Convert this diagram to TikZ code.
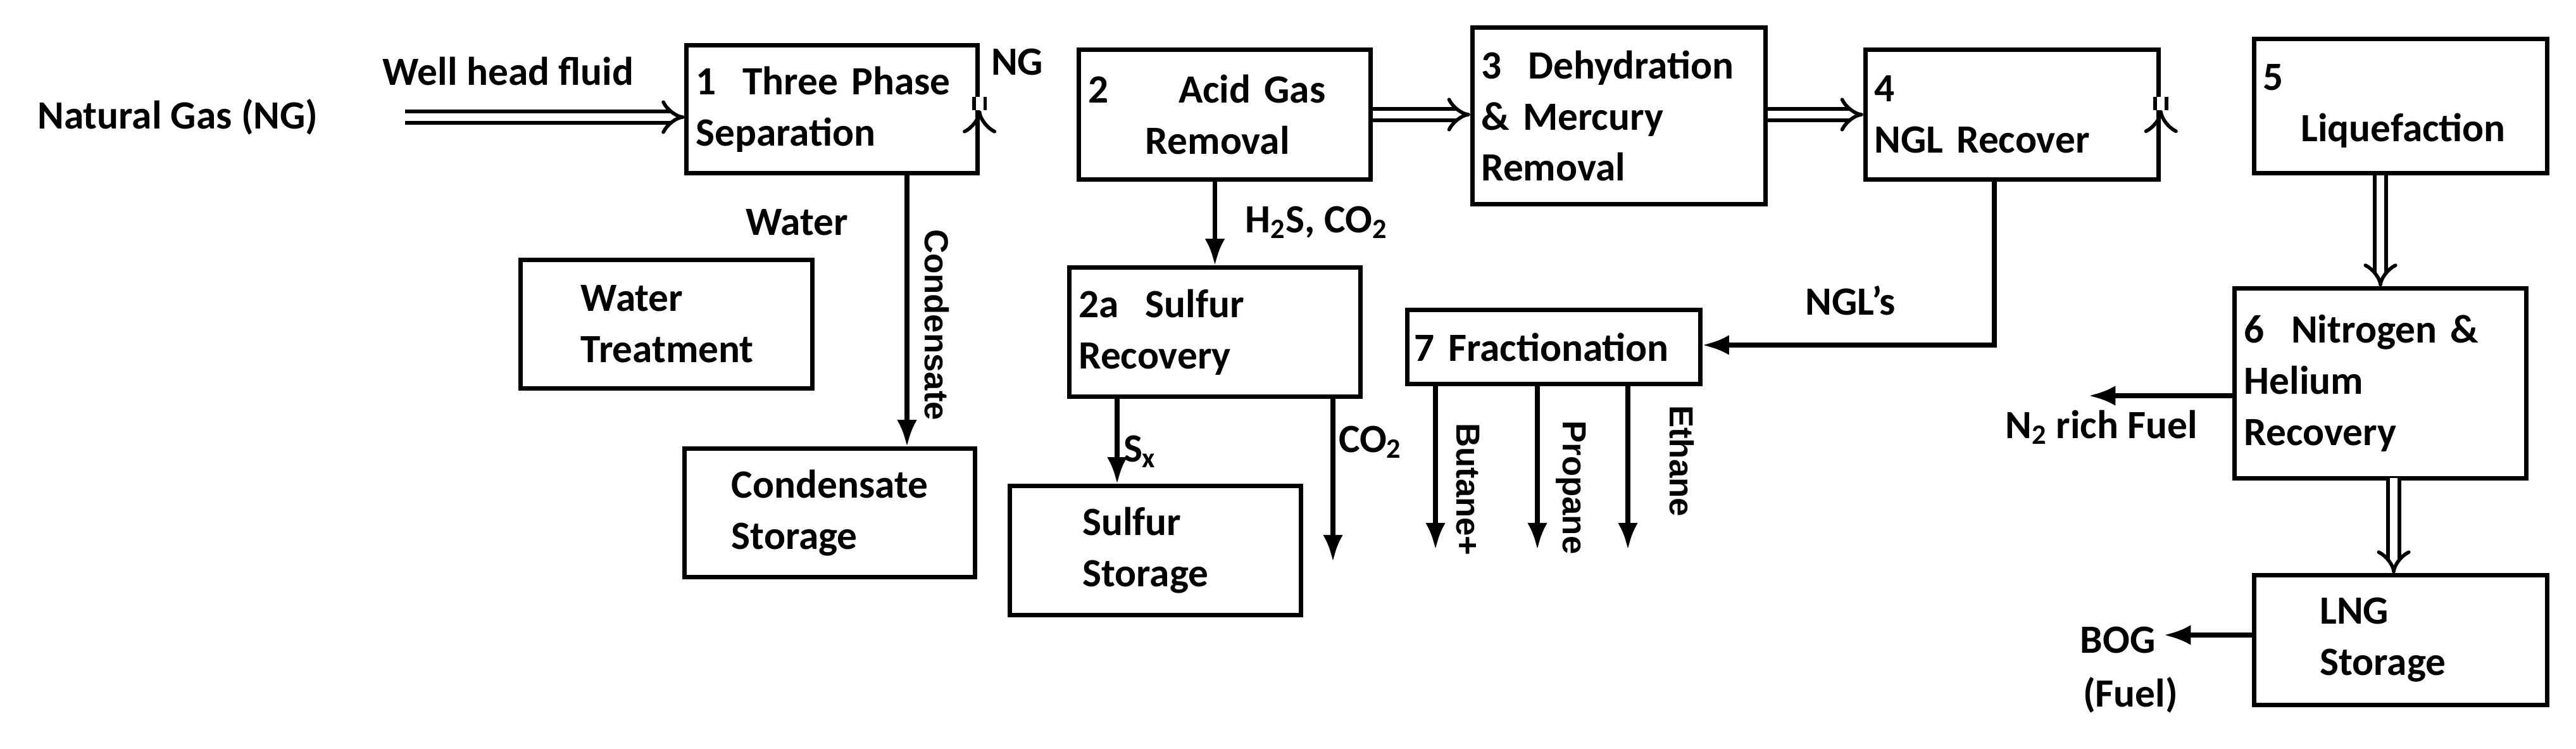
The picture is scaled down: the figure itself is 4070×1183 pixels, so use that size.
\documentclass[tikz,border=0pt]{standalone}
\usepackage{fontspec}
\setmainfont{Carlito}
\newfontfamily\arl{Liberation Sans}
\usetikzlibrary{arrows.meta,calc}
\begin{document}
\begin{tikzpicture}[x=0.01cm,y=-0.01cm,
  box/.style={draw,line width=2pt,inner xsep=4pt,align=left,font=\fontsize{18}{23}\selectfont\bfseries},
  lbl/.style={font=\fontsize{18}{23}\selectfont\bfseries,align=left},
  rl/.style={font=\arl\fontsize{15}{18}\selectfont\bfseries,rotate=-90},
  arr/.style={line width=2.2pt,-{Latex[length=12pt,width=9pt]}},
  dbl/.style={double,line width=1.6pt,double distance=3.5pt,-{Implies[length=10pt,width=14pt]}}]
\useasboundingbox (0,0) rectangle (4070,1183);
% boxes
\node[box,minimum width=4.59cm,minimum height=2.01cm,text width=4.3cm] (b1) at (1314.5,172.5) {1~~Three Phase\\Separation};
\node[box,minimum width=4.60cm,minimum height=2.04cm,text width=4.3cm] (b2) at (1935,181) {2\hspace{1.1cm}Acid Gas\\\hspace{0.9cm}Removal};
\node[box,minimum width=4.62cm,minimum height=2.78cm,text width=4.35cm] (b3) at (2558,183) {3~~Dehydration\\\&~Mercury\\Removal};
\node[box,minimum width=4.62cm,minimum height=2.04cm,text width=4.35cm] (b4) at (3179,181) {4\\NGL Recover};
\node[box,minimum width=4.62cm,minimum height=2.11cm,text width=4.35cm] (b5) at (3793,167.5) {5\\\hspace{0.6cm}Liquefaction};
\node[box,minimum width=4.60cm,minimum height=2.02cm,text width=4.3cm] (wt) at (1053,512) {\hspace{0.8cm}Water\\\hspace{0.8cm}Treatment};
\node[box,minimum width=4.58cm,minimum height=2.02cm,text width=4.3cm] (cs) at (1311,810) {\hspace{0.6cm}Condensate\\\hspace{0.6cm}Storage};
\node[box,minimum width=4.59cm,minimum height=2.03cm,text width=4.3cm] (b2a) at (1919.5,524.5) {2a~~Sulfur\\Recovery};
\node[box,minimum width=4.59cm,minimum height=2.03cm,text width=4.3cm] (ss) at (1825.5,869.5) {\hspace{1.0cm}Sulfur\\\hspace{1.0cm}Storage};
\node[box,minimum width=4.62cm,minimum height=1.16cm,text width=4.4cm,inner xsep=2pt] (b7) at (2455,548) {7 Fractionation};
\node[box,minimum width=4.60cm,minimum height=2.99cm,text width=4.3cm] (b6) at (3761,605.5) {6~~Nitrogen \&\\Helium\\Recovery};
\node[box,minimum width=4.62cm,minimum height=2.04cm,text width=4.35cm] (lng) at (3793,1011) {\hspace{0.9cm}LNG\\\hspace{0.9cm}Storage};
% labels
\node[lbl] (tng) at (281,185) {Natural Gas (NG)};
\node[lbl] (twh) at (803,113) {Well head fluid};
\node[lbl] (tng2) at (1607,98) {NG};
\node[lbl] (tw) at (1259,351) {Water};
\node[rl] (tcond) at (1480,513) {Condensate};
\node[lbl,anchor=west] (th2s) at (1955,351) {H$_\mathbf{2}$S, CO$_\mathbf{2}$};
\node[lbl] (tsx) at (1801,713) {S$_\mathbf{x}$};
\node[lbl] (tco2) at (2165,698) {CO$_\mathbf{2}$};
\node[lbl] (tngl) at (2924,475) {NGL’s};
\node[rl] (tbut) at (2319,773) {Butane+};
\node[rl] (tpro) at (2482,770) {Propane};
\node[rl] (teth) at (2657,728) {Ethane};
\node[lbl] (tn2) at (3320,675) {N$_\mathbf{2}$ rich Fuel};
\node[lbl] (tbog) at (3346,1011) {BOG};
\node[lbl] (tfuel) at (3366,1098) {(Fuel)};
% coordinates
\coordinate (ngin) at (640,185);
\coordinate (cond) at (1433,273);
\coordinate (sx) at (1765,626);
\coordinate (co2e) at (2106,887);
\coordinate (ngl) at (3151,545);
\coordinate (bu) at (2268,868);
\coordinate (pr) at (2429,868);
\coordinate (et) at (2572,868);
\coordinate (n2) at (3300,625);
\coordinate (bog) at (3419,1003);
\coordinate (d6) at (3782,755);
% double arrows
\draw[dbl] (ngin) -- (ngin -| b1.west);
\draw[dbl] ($(b1.east)+(0,2)$) -- ($(b1.east)+(0,2)$ -| b2.west);
\draw[dbl] (b2.east) -- (b2.east -| b3.west);
\draw[dbl] (b3.east |- b4.east) -- (b4.west);
\draw[dbl] ($(b4.east)+(0,-7)$) -- ($(b4.east)+(0,-7)$ -| b5.west);
\draw[dbl] (b6.north |- b5.south) -- (b6.north);
\draw[dbl] (d6) -- (d6 |- lng.north);
% single arrows
\draw[arr] (cond) -- (cond |- cs.north);
\draw[arr] (b2a.north |- b2.south) -- (b2a.north);
\draw[arr] (sx) -- (sx |- ss.north);
\draw[arr] (co2e |- b2a.south) -- (co2e);
\draw[arr] (ngl |- b4.south) -- (ngl) -- (b7.east |- ngl);
\draw[arr] (bu |- b7.south) -- (bu);
\draw[arr] (pr |- b7.south) -- (pr);
\draw[arr] (et |- b7.south) -- (et);
\draw[arr] (n2 -| b6.west) -- (n2);
\draw[arr] (bog -| lng.west) -- (bog);
\end{tikzpicture}
\end{document}
